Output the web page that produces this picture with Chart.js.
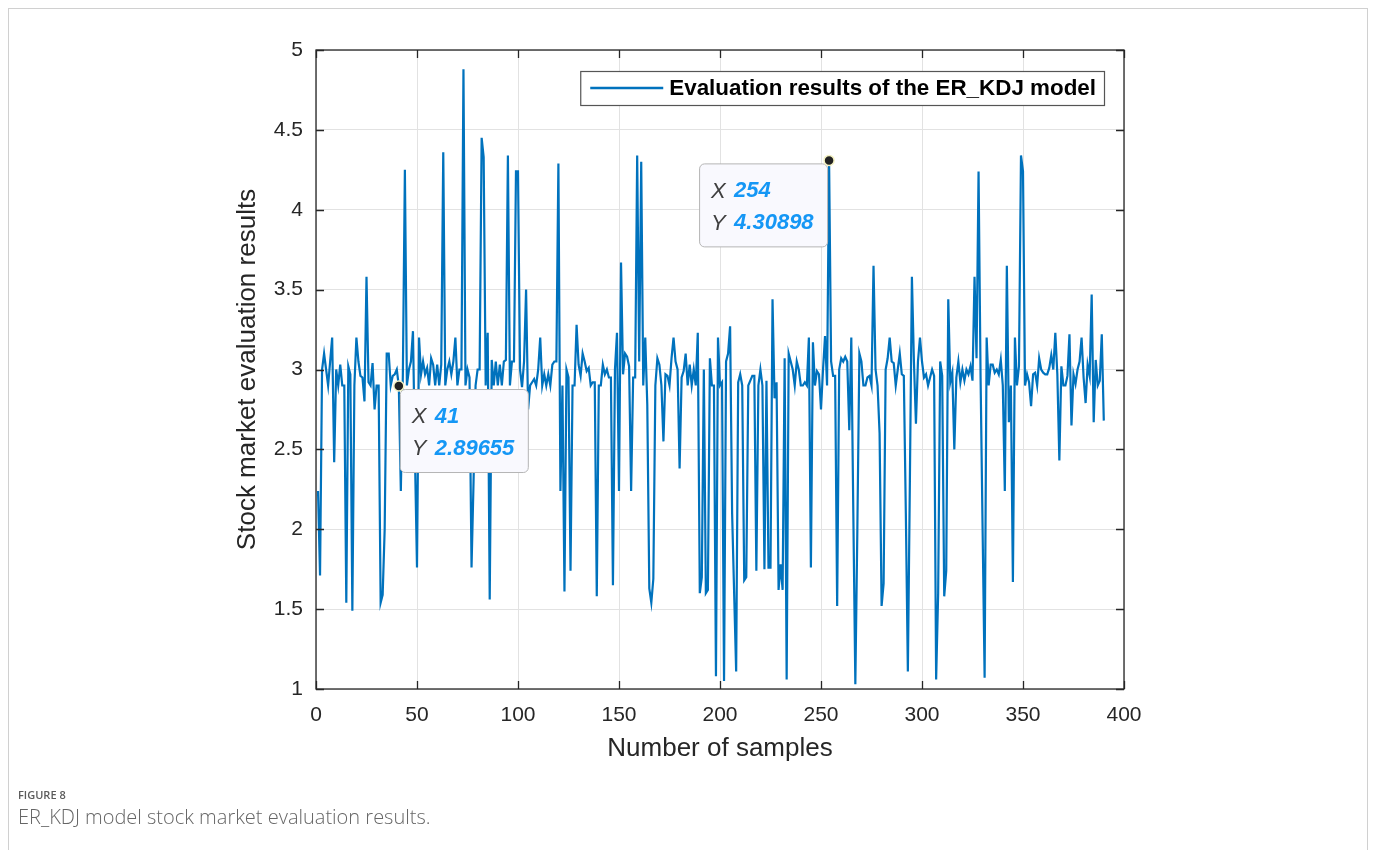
<!DOCTYPE html>
<html>
<head>
<meta charset="utf-8">
<title>ER_KDJ model stock market evaluation results</title>
<script src="https://cdn.jsdelivr.net/npm/chart.js@4.4.1/dist/chart.umd.min.js"></script>
<style>
  html, body { margin: 0; padding: 0; background: #fff; }
  #page { position: relative; width: 1375px; height: 850px; overflow: hidden; }
  #frame {
    position: absolute; left: 8px; top: 8px; width: 1358px; height: 900px;
    border: 1px solid #d0d0d0; border-bottom: none;
  }
  #chart { position: absolute; left: 0; top: 0; }
  #figLabel {
    position: absolute; left: 18px; top: 787px;
    font: 600 11px "Open Sans", sans-serif; color: #5b5b5b;
  }
  #figCaption {
    position: absolute; left: 18px; top: 803px;
    font: 300 20px "Open Sans", sans-serif; color: #666666;
  }
</style>
</head>
<body>
<div id="page">
  <div id="frame"></div>
  <canvas id="chart" width="1375" height="850"></canvas>
  <div id="figLabel">FIGURE 8</div>
  <div id="figCaption">ER_KDJ model stock market evaluation results.</div>
</div>
<script>
// evaluation result for samples 1..390
const evalValues = [
  2.24, 1.71, 3.0, 3.1, 3.0, 2.9, 3.05, 3.2, 2.42, 3.0,
  2.9, 3.03, 2.9, 2.9, 1.54, 3.02, 2.97, 1.49, 2.9, 3.2,
  3.05, 2.96, 2.95, 2.8, 3.58, 2.92, 2.9, 3.04, 2.75, 2.9,
  2.9, 1.54, 1.59, 2.0, 3.1, 3.1, 2.9, 2.96, 2.97, 3.0,
  2.89655, 2.24, 2.97, 4.25, 2.9, 3.0, 3.05, 3.24, 2.45, 1.76,
  3.2, 2.97, 3.05, 2.97, 3.01, 2.9, 3.07, 3.03, 2.9, 3.03,
  2.9, 3.03, 4.36, 2.9, 3.0, 3.05, 2.97, 3.05, 3.2, 2.9,
  3.0, 3.0, 4.88, 2.9, 3.0, 2.95, 1.76, 2.3, 2.9, 3.0,
  3.0, 4.45, 4.33, 2.9, 3.23, 1.56, 3.06, 2.9, 3.05, 2.9,
  3.03, 2.9, 3.05, 3.06, 4.34, 2.9, 3.05, 3.05, 4.24, 4.24,
  3.0, 2.89, 3.05, 3.5, 2.75, 2.9, 2.92, 2.94, 2.9, 3.0,
  3.2, 2.9, 2.97, 2.9, 2.97, 2.9, 3.03, 3.05, 3.05, 4.29,
  2.24, 2.9, 1.61, 3.0, 2.95, 1.74, 2.9, 2.9, 3.28, 3.03,
  2.96, 3.1, 3.05, 2.99, 3.01, 2.9, 2.92, 2.92, 1.58, 2.9,
  2.9, 3.03, 2.97, 3.0, 2.95, 2.95, 1.65, 3.0, 3.23, 2.24,
  3.67, 2.97, 3.1, 3.08, 3.02, 2.24, 2.95, 2.95, 4.34, 3.05,
  4.3, 2.9, 3.2, 2.78, 1.63, 1.54, 1.69, 2.9, 3.07, 3.03,
  2.9, 2.55, 2.97, 2.96, 2.9, 3.07, 3.2, 3.05, 3.0, 2.38,
  2.95, 2.99, 3.1, 2.9, 3.03, 2.9, 3.0, 2.9, 3.23, 1.6,
  1.7, 3.0, 1.6, 1.62, 3.07, 2.9, 2.9, 1.08, 3.2, 2.9,
  2.92, 1.05, 3.05, 3.1, 3.27, 2.1, 1.6, 1.11, 2.92, 2.97,
  2.9, 1.68, 1.7, 2.9, 2.93, 2.96, 2.96, 1.74, 2.9, 3.0,
  2.9, 1.75, 2.93, 1.76, 1.76, 3.44, 2.82, 2.92, 1.62, 1.78,
  1.62, 3.07, 1.06, 3.1, 3.05, 3.0, 2.9, 3.05, 3.0, 2.9,
  2.9, 2.92, 2.9, 3.2, 1.76, 3.17, 2.9, 2.99, 2.97, 2.75,
  3.0, 3.21, 2.9, 4.30898, 3.05, 2.96, 2.96, 1.52, 3.0, 3.07,
  3.05, 3.08, 3.05, 2.62, 3.2, 2.1, 1.03, 2.0, 3.1, 3.05,
  2.9, 2.9, 2.95, 2.96, 2.9, 3.65, 3.0, 2.9, 2.6, 1.52,
  1.66, 3.0, 3.07, 3.2, 3.05, 3.04, 2.9, 3.0, 3.1, 2.97,
  2.96, 2.1, 1.11, 2.3, 3.58, 3.05, 2.66, 3.05, 3.2, 3.05,
  2.95, 2.97, 2.9, 2.95, 3.0, 2.96, 1.06, 1.6, 3.05, 2.96,
  1.58, 1.74, 3.44, 2.92, 2.98, 2.5, 2.95, 3.05, 2.92, 3.0,
  2.93, 3.0, 2.97, 3.02, 2.93, 3.58, 3.07, 4.24, 2.95, 2.0,
  1.07, 3.2, 2.9, 3.03, 3.03, 2.98, 3.0, 2.97, 3.06, 2.9,
  2.24, 3.65, 2.67, 2.9, 1.67, 3.2, 2.9, 3.02, 4.34, 4.24,
  2.9, 2.97, 2.92, 2.77, 2.97, 2.98, 2.9, 3.07, 3.0, 2.98,
  2.97, 2.97, 3.01, 3.09, 3.0, 3.23, 2.97, 2.43, 3.02, 2.9,
  2.9, 2.96, 3.22, 2.65, 2.97, 2.91, 3.0, 3.05, 3.2, 2.95,
  2.79, 3.03, 2.96, 3.47, 2.67, 3.06, 2.9, 2.93, 3.22, 2.68
];
const sampleNumbers = evalValues.map((v, i) => i + 1);

const seriesLabel = "Evaluation results of the ER_KDJ model";
const xTitle = "Number of samples";
const yTitle = "Stock market evaluation results";

// data tips shown on the figure
const tipSamples = [41, 254];
const tipValueText = ["2.89655", "4.30898"];
const tipSide = ["right", "left"];

const FONT = '"Liberation Sans", Arial, Helvetica, sans-serif';
const AXIS_COLOR = "#262626";
const LINE_COLOR = "#0072BD";

const matlabBits = {
  id: "matlabBits",
  afterDatasetsDraw(chart) {
    const ctx = chart.ctx;
    const area = chart.chartArea;
    const xs = chart.scales.x;
    const ys = chart.scales.y;

    ctx.save();

    // axes box
    ctx.strokeStyle = AXIS_COLOR;
    ctx.lineWidth = 1.3;
    ctx.strokeRect(area.left, area.top, area.right - area.left, area.bottom - area.top);

    // inward tick marks on all sides
    const tickLen = 8;
    ctx.beginPath();
    xs.ticks.forEach((t) => {
      const px = Math.round(xs.getPixelForValue(t.value)) + 0.5;
      ctx.moveTo(px, area.bottom);
      ctx.lineTo(px, area.bottom - tickLen);
      ctx.moveTo(px, area.top);
      ctx.lineTo(px, area.top + tickLen);
    });
    ys.ticks.forEach((t) => {
      const py = Math.round(ys.getPixelForValue(t.value)) + 0.5;
      ctx.moveTo(area.left, py);
      ctx.lineTo(area.left + tickLen, py);
      ctx.moveTo(area.right, py);
      ctx.lineTo(area.right - tickLen, py);
    });
    ctx.stroke();

    // legend inside the axes, top right
    ctx.font = "bold 22.4px " + FONT;
    const textW = ctx.measureText(seriesLabel).width;
    const legW = 89 + textW + 8;
    const legH = 34;
    const legX = area.right - 20 - legW;
    const legY = area.top + 21;
    ctx.fillStyle = "#ffffff";
    ctx.fillRect(legX, legY, legW, legH);
    ctx.strokeStyle = "#555555";
    ctx.lineWidth = 1.2;
    ctx.strokeRect(legX + 0.5, legY + 0.5, legW, legH);
    ctx.strokeStyle = LINE_COLOR;
    ctx.lineWidth = 2.5;
    ctx.beginPath();
    ctx.moveTo(legX + 10, legY + legH / 2);
    ctx.lineTo(legX + 83, legY + legH / 2);
    ctx.stroke();
    ctx.fillStyle = "#000000";
    ctx.textBaseline = "middle";
    ctx.textAlign = "left";
    ctx.fillText(seriesLabel, legX + 89, legY + legH / 2 + 1);

    // data tips
    tipSamples.forEach((s, k) => {
      const px = xs.getPixelForValue(s);
      const py = ys.getPixelForValue(evalValues[s - 1]);
      const bw = 128;
      const bh = 83;
      const bx = tipSide[k] === "right" ? px + 1 : px - bw - 2;
      const by = py + 3;

      ctx.beginPath();
      ctx.roundRect(bx + 0.5, by + 0.5, bw, bh, 5);
      ctx.fillStyle = "#f9f9fe";
      ctx.fill();
      ctx.strokeStyle = "#b5b5b5";
      ctx.lineWidth = 1;
      ctx.stroke();

      ctx.textBaseline = "middle";
      ctx.fillStyle = "#404040";
      ctx.font = "italic 22px " + FONT;
      ctx.fillText("X", bx + 12, by + 28);
      ctx.fillText("Y", bx + 12, by + 60);
      ctx.fillStyle = "#1597f5";
      ctx.font = "italic bold 22px " + FONT;
      ctx.fillText(String(s), bx + 35, by + 28);
      ctx.fillText(tipValueText[k], bx + 35, by + 60);

      ctx.beginPath();
      ctx.arc(px, py, 5, 0, Math.PI * 2);
      ctx.fillStyle = "#222222";
      ctx.fill();
      ctx.strokeStyle = "#f4f2c4";
      ctx.lineWidth = 1.5;
      ctx.stroke();
    });

    ctx.restore();
  }
};

new Chart(document.getElementById("chart").getContext("2d"), {
  type: "line",
  data: {
    datasets: [
      {
        label: seriesLabel,
        data: sampleNumbers.map((x, i) => ({ x: x, y: evalValues[i] })),
        borderColor: LINE_COLOR,
        borderWidth: 2.2,
        pointRadius: 0,
        tension: 0,
        fill: false
      }
    ]
  },
  options: {
    responsive: false,
    animation: false,
    layout: { padding: { left: 232, top: 50, right: 251, bottom: 86 } },
    plugins: {
      legend: { display: false },
      tooltip: { enabled: false }
    },
    scales: {
      x: {
        type: "linear",
        min: 0,
        max: 400,
        ticks: { stepSize: 50, color: AXIS_COLOR, font: { family: FONT, size: 21 }, padding: 14, maxRotation: 0 },
        grid: { color: "#e2e2e2", drawTicks: false },
        border: { display: false },
        title: { display: true, text: xTitle, color: AXIS_COLOR, font: { family: FONT, size: 26 }, padding: 0 },
        afterFit(scale) {
          scale.height = 75;
          scale.paddingLeft = 0;
          scale.paddingRight = 0;
        }
      },
      y: {
        min: 1,
        max: 5,
        ticks: {
          stepSize: 0.5,
          color: AXIS_COLOR,
          font: { family: FONT, size: 21 },
          padding: 13,
          callback: (v) => String(Number(v.toFixed(1)))
        },
        grid: { color: "#e2e2e2", drawTicks: false },
        border: { display: false },
        title: { display: true, text: yTitle, color: AXIS_COLOR, font: { family: FONT, size: 26 }, padding: 0 },
        afterFit(scale) {
          scale.width = 84;
          scale.paddingTop = 0;
          scale.paddingBottom = 0;
        }
      }
    }
  },
  plugins: [matlabBits]
});
</script>
</body>
</html>
